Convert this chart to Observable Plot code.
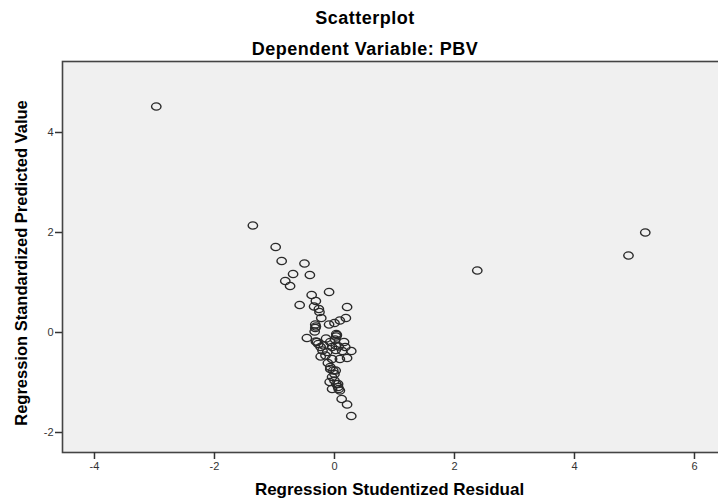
<!DOCTYPE html>
<html>
<head>
<meta charset="utf-8">
<script src="https://cdn.jsdelivr.net/npm/d3@7"></script>
<script src="https://cdn.jsdelivr.net/npm/@observablehq/plot@0.6"></script>
<style>
  html, body { margin: 0; padding: 0; background: #fff; overflow: hidden; }
  #wrap { position: relative; width: 718px; height: 499px; overflow: hidden; font-family: "Liberation Sans", Arial, sans-serif; }
  #head { position: relative; height: 56px; }
  .ttl { position: absolute; left: 0; width: 730px; text-align: center; font-weight: bold; font-size: 18px; line-height: 18px; letter-spacing: 0.5px; color: #000; }
  #chart svg { display: block; max-width: none !important; }
</style>
</head>
<body>
<div id="wrap">
  <div id="head">
    <div class="ttl" id="t1" style="top:9px"></div>
    <div class="ttl" id="t2" style="top:40px"></div>
  </div>
  <div id="chart"></div>
</div>
<script>
// Regression Studentized Residual (x) and Regression Standardized Predicted Value (y)
const residual = [
  -2.97, -1.36, -0.98, -0.88, -0.50, -0.69, -0.41, -0.82, -0.74, -0.38,
  -0.09, -0.58, -0.31, -0.34, -0.26, -0.25, 0.21, -0.22, 0.19, 0.09,
  0.00, -0.09, -0.32, -0.32, -0.33, -0.31, -0.46, 0.03, 0.03, 0.01,
  -0.31, -0.27, -0.14, -0.07, -0.18, 0.07, 0.18, 0.28, 0.13, 0.02,
  -0.20, -0.23, -0.04, 0.09, 0.21, -0.11, -0.07, -0.02, 0.00, -0.08,
  0.00, 0.03, -0.04, 0.06, 0.09, 0.12, 0.21, 0.28, 2.38, 4.90,
  5.18, 0.04, -0.04, -0.12, -0.15, -0.07, 0.02, -0.04, 0.06, 0.07,
  -0.29, -0.23, 0.02, 0.16
];
const predicted = [
  4.52, 2.14, 1.71, 1.43, 1.38, 1.17, 1.15, 1.03, 0.93, 0.75,
  0.81, 0.55, 0.63, 0.52, 0.47, 0.41, 0.51, 0.29, 0.29, 0.24,
  0.19, 0.16, 0.16, 0.09, 0.02, 0.12, -0.11, -0.03, -0.08, -0.14,
  -0.18, -0.23, -0.12, -0.19, -0.26, -0.28, -0.29, -0.37, -0.37, -0.35,
  -0.36, -0.48, -0.53, -0.53, -0.51, -0.61, -0.73, -0.76, -0.83, -0.99,
  -0.96, -1.03, -1.13, -1.09, -1.16, -1.33, -1.44, -1.67, 1.24, 1.54,
  2.00, -0.05, -0.29, -0.39, -0.46, -0.69, -0.76, -0.89, -1.03, -1.13,
  -0.19, -0.29, -0.26, -0.19
];
const xTicks = [-4, -2, 0, 2, 4, 6];
const yTicks = [-2, 0, 2, 4];
const title = "Scatterplot";
const subtitle = "Dependent Variable: PBV";
const xLabel = "Regression Studentized Residual";
const yLabel = "Regression Standardized Predicted Value";

document.getElementById("t1").textContent = title;
document.getElementById("t2").textContent = subtitle;

const data = residual.map((r, i) => ({residual: r, predicted: predicted[i]}));

// slightly flattened open circle, like the SPSS marker
const ellipse = {
  draw(ctx, size) {
    const r = Math.sqrt(size / Math.PI);
    const rx = r * 1.12, ry = r * 0.86, k = 0.5523;
    ctx.moveTo(rx, 0);
    ctx.bezierCurveTo(rx, ry * k, rx * k, ry, 0, ry);
    ctx.bezierCurveTo(-rx * k, ry, -rx, ry * k, -rx, 0);
    ctx.bezierCurveTo(-rx, -ry * k, -rx * k, -ry, 0, -ry);
    ctx.bezierCurveTo(rx * k, -ry, rx, -ry * k, rx, 0);
    ctx.closePath();
  }
};

const fmt = d => String(d);

const chart = Plot.plot({
  width: 728,
  height: 443,
  marginTop: 5,
  marginBottom: 47,
  marginLeft: 62,
  marginRight: 0,
  style: {fontFamily: "'Liberation Sans', Arial, sans-serif", background: "transparent", overflow: "visible", maxWidth: "none"},
  x: {domain: [-4.533, 6.567]},
  y: {domain: [-2.4, 5.42]},
  marks: [
    Plot.frame({fill: "#f0f0f0"}),
    Plot.dot(data, {x: "residual", y: "predicted", symbol: ellipse, r: 4.2, stroke: "#2a2a2a", strokeWidth: 1.4, fill: "none"}),
    Plot.frame({stroke: "#444", strokeWidth: 1.6}),
    Plot.axisX(xTicks, {tickSize: 7, tickPadding: 3, fontSize: 11, fill: "#333", stroke: "#333", strokeWidth: 1.5, tickFormat: fmt, label: null}),
    Plot.axisY(yTicks, {tickSize: 7, tickPadding: 2, fontSize: 11, fill: "#333", stroke: "#333", strokeWidth: 1.5, tickFormat: fmt, label: null}),
    Plot.text([xLabel], {text: d => d, frameAnchor: "bottom", dx: -6, dy: 37.5, lineAnchor: "middle", fontSize: 17, fontWeight: "bold", fill: "#000"}),
    Plot.text([yLabel], {text: d => d, frameAnchor: "left", dx: -41, dy: 6, rotate: -90, textAnchor: "middle", lineAnchor: "middle", fontSize: 16.5, fontWeight: "bold", fill: "#000"})
  ]
});
document.getElementById("chart").appendChild(chart);
</script>
</body>
</html>
